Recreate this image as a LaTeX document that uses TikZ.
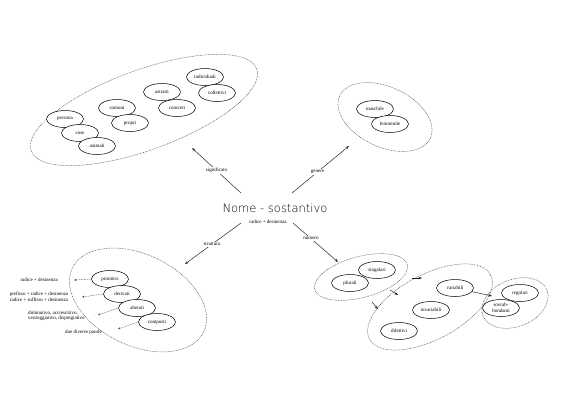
\documentclass[tikz,border=0pt]{standalone}
\usepackage{fontspec}
\setmainfont{Liberation Serif}
\newfontfamily\titlefont{DejaVu Sans ExtraLight}
\usetikzlibrary{shapes.geometric, arrows.meta}

\tikzset{
  word/.style={draw, ellipse, fill=white, line width=0.5pt, minimum width=37pt,
    minimum height=17pt, inner sep=0pt, align=center, font=\fontsize{5}{5.5}\selectfont},
  group/.style={draw=black!65, ellipse, dash pattern=on 0.8pt off 0.8pt,
    line width=0.5pt, inner sep=0pt},
  branch/.style={-{Stealth[length=3.5pt, width=2.6pt]}, line width=0.5pt, draw=black!85},
  tag/.style={fill=white, inner sep=1pt, font=\fontsize{5}{6}\selectfont},
  note/.style={inner sep=0pt, font=\fontsize{5}{5.5}\selectfont},
  hint/.style={-{Stealth[length=2.5pt, width=2pt]}, draw=black!75,
    dash pattern=on 0.8pt off 0.8pt, line width=0.4pt}
}

\begin{document}
\begin{tikzpicture}[x=1pt, y=-1pt]
    \useasboundingbox (0,0) rectangle (566,400);

    % Centre
    \node[font=\titlefont\fontsize{11.5}{13}\selectfont, text=black] (nome) at (275,208) {Nome - sostantivo};
    \node[note] (radice) at (268,222) {radice + desinenza};

    % Groups
    \node[group, minimum width=240pt, minimum height=80pt, rotate=20] (gSig) at (144,110) {};
    \node[group, minimum width=100pt, minimum height=60pt, rotate=-25] (gGen) at (385,117) {};
    \node[group, minimum width=146pt, minimum height=91pt, rotate=-26] (gStr) at (138,300) {};
    \node[group, minimum width=96pt, minimum height=41pt, rotate=15] (gNum) at (361,277) {};
    \node[group, minimum width=137pt, minimum height=65pt, rotate=28] (gVar) at (430,307) {};
    \node[group, minimum width=69pt, minimum height=47pt, rotate=22] (gReg) at (515,303) {};

    % significato
    \node[word] (persona) at (65,119) {persona};
    \node[word] (cose) at (80,133) {cose};
    \node[word] (animali) at (97,146) {animali};
    \node[word] (comuni) at (117,108) {comuni};
    \node[word] (propri) at (130,123) {propri};
    \node[word] (astratti) at (162,92) {astratti};
    \node[word] (concreti) at (177,108) {concreti};
    \node[word] (individuali) at (205,77) {individuali};
    \node[word] (collettivi) at (217,93) {collettivi};

    % genere
    \node[word] (maschile) at (375,109) {maschile};
    \node[word] (femminile) at (390,124) {femminile};

    % struttura
    \node[word] (primitivi) at (110,279) {primitivi};
    \node[word] (derivati) at (122,294) {derivati};
    \node[word] (alterati) at (137,308) {alterati};
    \node[word] (composti) at (157,322) {composti};

    % numero
    \node[word] (singolari) at (377,270) {singolari};
    \node[word] (plurali) at (350,283) {plurali};
    \node[word] (variabili) at (455,288) {variabili};
    \node[word] (invariabili) at (431,310) {invariabili};
    \node[word] (difettivi) at (399,331) {difettivi};
    \node[word] (regolari) at (520,293) {regolari};
    \node[word] (sovrabbondanti) at (501,308) {sovrab-\\bondanti};

    % Branches from the centre
    \coordinate (sSig) at (241,193);  \coordinate (eSig) at (192,148);
    \coordinate (sGen) at (292,193);  \coordinate (eGen) at (349,146);
    \coordinate (sStr) at (241,223);  \coordinate (eStr) at (185,264);
    \coordinate (sNum) at (293,223);  \coordinate (eNum) at (338,262);
    \draw[branch] (sSig) -- node[tag] {significato} (eSig);
    \draw[branch] (sGen) -- node[tag, pos=0.45] {genere} (eGen);
    \draw[branch] (sStr) -- node[tag, pos=0.52] {struttura} (eStr);
    \draw[branch] (sNum) -- node[tag, pos=0.4] {numero} (eNum);

    % Notes on the structure
    \node[note, anchor=east] (nPrim) at (58,280) {radice + desinenza};
    \node[note, align=center] (nDer) at (39,297) {prefisso + radice + desinenza\\radice + suffisso + desinenza};
    \node[note, align=left, anchor=west] (nAlt) at (28,316) {diminutivo, accrescitivo,\\vezzeggiativo, dispregiativo};
    \node[note, anchor=west] (nComp) at (65,332) {due diverse parole};
    \coordinate (tPrim) at (74,280);
    \coordinate (tDer) at (82,297);
    \coordinate (tAlt) at (98,315);
    \coordinate (tComp) at (118,329);
    \draw[hint] (primitivi.west) -- (tPrim);
    \draw[hint] (derivati.west) -- (tDer);
    \draw[hint] (alterati.west) -- (tAlt);
    \draw[hint] (composti.west) -- (tComp);

    % Between the number groups
    \coordinate (a1) at (412,278);  \coordinate (b1) at (422,278);
    \coordinate (a2) at (390,290);  \coordinate (b2) at (398,295);
    \coordinate (a3) at (372,302);  \coordinate (b3) at (378,309);
    \draw[branch] (a1) -- (b1);
    \draw[branch] (a2) -- (b2);
    \draw[branch] (a3) -- (b3);
    \coordinate (tReg) at (492,296);
    \draw[branch] (variabili.-12) -- (tReg);
\end{tikzpicture}
\end{document}
